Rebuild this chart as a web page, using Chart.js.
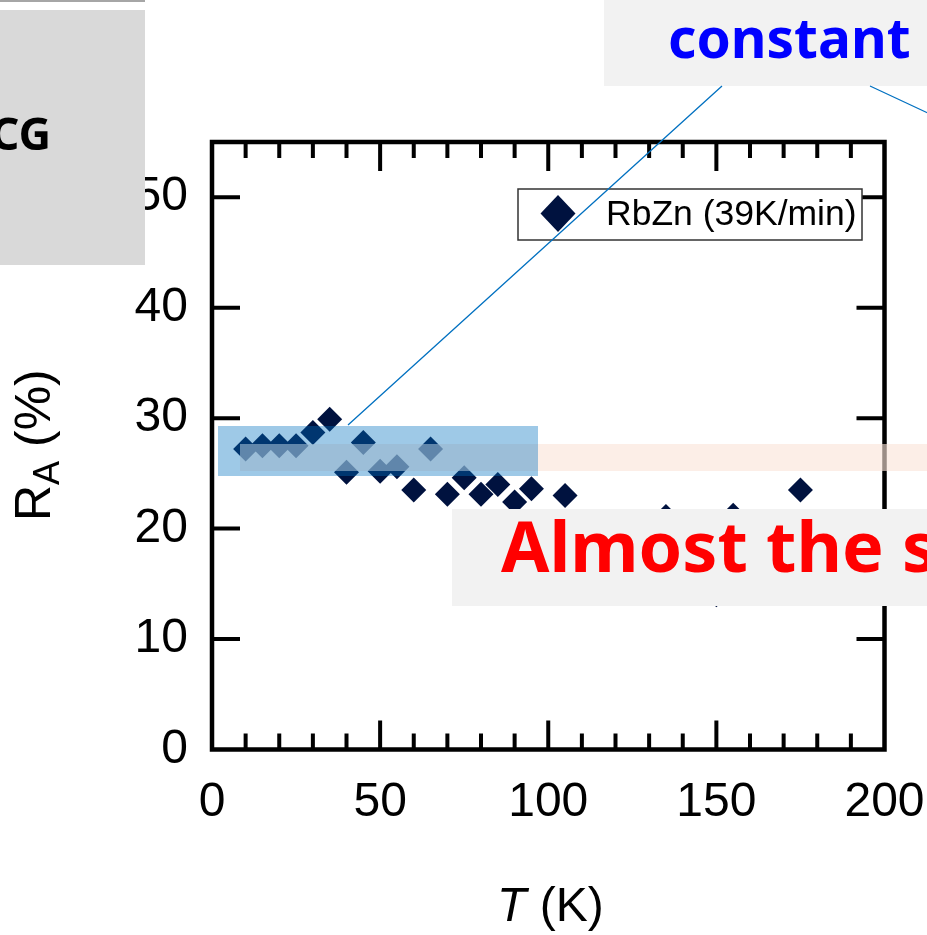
<!DOCTYPE html>
<html>
<head>
<meta charset="utf-8">
<title>RbZn R_A vs T</title>
<script src="https://cdn.jsdelivr.net/npm/chart.js@4.4.1/dist/chart.umd.min.js"></script>
<style>
  html, body { margin: 0; padding: 0; background: #fff; }
  canvas { display: block; }
</style>
</head>
<body>
<canvas id="chart" width="927" height="935"></canvas>
<script>
'use strict';

// RbZn (39K/min) : R_A (%) against T (K)
const seriesLabel = 'RbZn (39K/min)';
const temps = [10, 15, 20, 25, 30, 35, 40, 45, 50, 55, 60, 65, 70, 75, 80, 85, 90, 95, 105, 135, 150, 155, 175];
const raValues = [27.2, 27.5, 27.5, 27.5, 28.7, 29.9, 25.1, 27.8, 25.2, 25.6, 23.5, 27.2, 23.1, 24.6, 23.1, 24.0, 22.4, 23.6, 23.0, 21.1, 14.0, 21.2, 23.5];

// Tick labels
const xTickValues = [0, 50, 100, 150, 200];
const yTickValues = [0, 10, 20, 30, 40, 50];

const AXIS_FONT = "'Liberation Sans', Arial, sans-serif";
const SLIDE_FONT = "'Noto Sans', 'Open Sans', sans-serif";
const markerColor = '#00123f';

// frame + inward ticks, drawn on top of the points
const frameTicks = {
  id: 'frameTicks',
  afterDatasetsDraw(chart) {
    const { ctx, chartArea: a } = chart;
    const x = chart.scales.x;
    const y = chart.scales.y;
    ctx.save();
    ctx.strokeStyle = '#000';
    ctx.lineWidth = 4;
    ctx.beginPath();
    for (let v = 10; v < 200; v += 10) {
      const px = x.getPixelForValue(v);
      const len = v % 50 === 0 ? 29 : 16;
      ctx.moveTo(px, a.bottom);
      ctx.lineTo(px, a.bottom - len);
      ctx.moveTo(px, a.top);
      ctx.lineTo(px, a.top + len);
    }
    yTickValues.forEach((v) => {
      if (v === 0) return;
      const py = y.getPixelForValue(v);
      ctx.moveTo(a.left, py);
      ctx.lineTo(a.left + 28, py);
      ctx.moveTo(a.right, py);
      ctx.lineTo(a.right - 28, py);
    });
    ctx.stroke();
    ctx.lineWidth = 4.5;
    ctx.strokeRect(a.left, a.top, a.right - a.left, a.bottom - a.top);
    ctx.restore();
  },
};

// legend box, axis titles and the slide annotations
const slideOverlay = {
  id: 'slideOverlay',
  afterDraw(chart) {
    const ctx = chart.ctx;
    const ds = chart.data.datasets[0];
    ctx.save();

    // legend
    ctx.fillStyle = '#fff';
    ctx.fillRect(518, 189, 344, 51);
    ctx.strokeStyle = '#333';
    ctx.lineWidth = 1.5;
    ctx.strokeRect(518, 189, 344, 51);
    ctx.fillStyle = ds.backgroundColor;
    ctx.beginPath();
    ctx.moveTo(558, 195);
    ctx.lineTo(575.5, 213.5);
    ctx.lineTo(558, 232);
    ctx.lineTo(540.5, 213.5);
    ctx.closePath();
    ctx.fill();
    ctx.fillStyle = '#000';
    ctx.font = `35.5px ${AXIS_FONT}`;
    ctx.textBaseline = 'alphabetic';
    ctx.textAlign = 'left';
    ctx.fillText(ds.label, 606, 225);

    // axis titles
    ctx.font = `italic 48px ${AXIS_FONT}`;
    ctx.fillText('T', 497, 921);
    const wT = ctx.measureText('T').width;
    ctx.font = `48px ${AXIS_FONT}`;
    ctx.fillText(' (K)', 497 + wT, 921);

    ctx.save();
    ctx.translate(50, 521);
    ctx.rotate(-Math.PI / 2);
    ctx.font = `50px ${AXIS_FONT}`;
    ctx.fillText('R', 0, 0);
    const wR = ctx.measureText('R').width;
    ctx.font = `36px ${AXIS_FONT}`;
    ctx.fillText('A', wR, 9);
    const wA = ctx.measureText('A').width;
    ctx.font = `50px ${AXIS_FONT}`;
    ctx.fillText(' (%)', wR + wA, 0);
    ctx.restore();

    // highlighted bands
    ctx.fillStyle = 'rgba(250, 228, 216, 0.62)';
    ctx.fillRect(240, 444, 720, 27);
    ctx.fillStyle = 'rgba(0, 112, 192, 0.38)';
    ctx.fillRect(218, 426, 320, 50);

    // left slide box
    ctx.fillStyle = '#a6a6a6';
    ctx.fillRect(0, 0, 145, 2);
    ctx.fillStyle = '#d9d9d9';
    ctx.fillRect(0, 10, 145, 255);
    ctx.fillStyle = '#000';
    ctx.font = `bold 45px ${SLIDE_FONT}`;
    ctx.textAlign = 'right';
    ctx.fillText('CG', 51, 150);

    // "constant" box
    ctx.textAlign = 'left';
    ctx.fillStyle = '#f2f2f2';
    ctx.fillRect(604, 0, 330, 86);
    ctx.fillStyle = '#0000ff';
    ctx.font = `bold 55px ${SLIDE_FONT}`;
    ctx.fillText('constant', 668, 58);

    // "Almost the same" box
    ctx.fillStyle = '#f2f2f2';
    ctx.fillRect(452, 509, 480, 97);
    ctx.fillStyle = '#ff0000';
    ctx.font = `bold 70px ${SLIDE_FONT}`;
    ctx.fillText('Almost the same', 501, 572);

    // callout lines
    ctx.strokeStyle = '#0070c0';
    ctx.lineWidth = 1.3;
    ctx.beginPath();
    ctx.moveTo(722, 86);
    ctx.lineTo(348, 425);
    ctx.moveTo(870, 86);
    ctx.lineTo(960, 128);
    ctx.stroke();

    ctx.restore();
  },
};

const ctxChart = document.getElementById('chart');

// eslint-disable-next-line no-new,no-undef
new Chart(ctxChart, {
  type: 'scatter',
  data: {
    datasets: [
      {
        label: seriesLabel,
        data: temps.map((t, i) => ({ x: t, y: raValues[i] })),
        pointStyle: 'rectRot',
        pointRadius: 12.5,
        pointHoverRadius: 12.5,
        borderWidth: 0,
        backgroundColor: markerColor,
      },
    ],
  },
  options: {
    responsive: false,
    animation: false,
    devicePixelRatio: 1,
    layout: {
      padding: { top: 142, right: 42.5, left: 0, bottom: 0 },
    },
    plugins: {
      legend: { display: false },
      tooltip: { enabled: false },
    },
    scales: {
      x: {
        type: 'linear',
        min: 0,
        max: 200,
        afterBuildTicks: (s) => { s.ticks = xTickValues.map((v) => ({ value: v })); },
        afterFit: (s) => {
          s.height = 185.5;
          s.paddingLeft = 0;
          s.paddingRight = 0;
        },
        grid: { display: false },
        border: { display: false },
        ticks: {
          color: '#000',
          padding: 16,
          maxRotation: 0,
          autoSkip: false,
          font: { family: AXIS_FONT, size: 48 },
        },
      },
      y: {
        type: 'linear',
        min: 0,
        max: 55,
        afterBuildTicks: (s) => { s.ticks = yTickValues.map((v) => ({ value: v })); },
        afterFit: (s) => {
          s.width = 212;
          s.paddingTop = 0;
          s.paddingBottom = 0;
        },
        grid: { display: false },
        border: { display: false },
        ticks: {
          color: '#000',
          padding: 16,
          autoSkip: false,
          font: { family: AXIS_FONT, size: 48 },
        },
      },
    },
  },
  plugins: [frameTicks, slideOverlay],
});
</script>
</body>
</html>
